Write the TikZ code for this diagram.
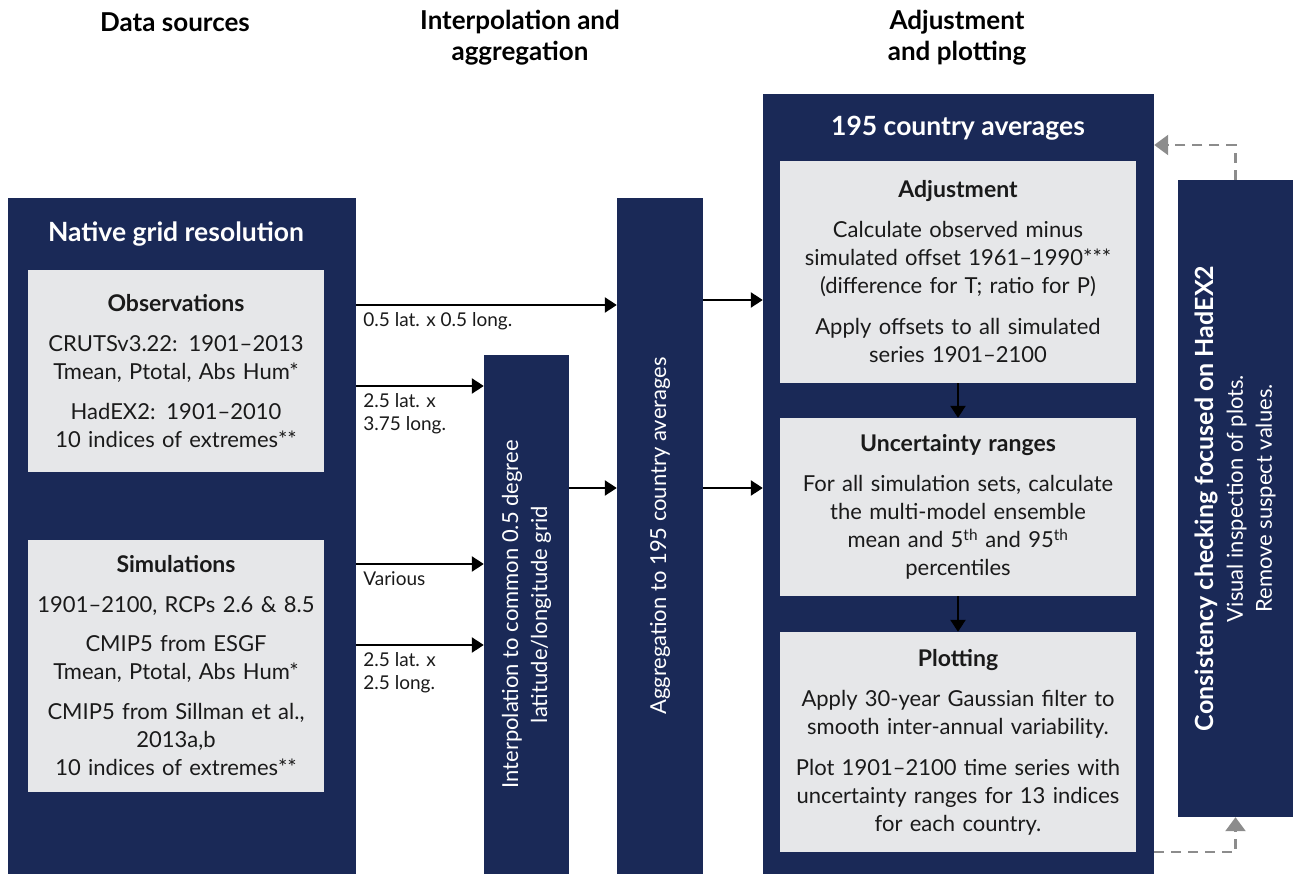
\documentclass[tikz,border=0pt]{standalone}
\usepackage{fontspec}
\setmainfont{Lato}
\usetikzlibrary{positioning}
\usetikzlibrary{calc}
\usetikzlibrary{arrows.meta}
\definecolor{navy}{HTML}{1A2957}
\definecolor{panel}{HTML}{E6E7E9}
\definecolor{dashgray}{HTML}{8C8C8C}
\definecolor{ink}{HTML}{1A1A1A}
\newcommand{\paneltitle}[1]{\textbf{\fontsize{23}{28}\selectfont #1}}

\begin{document}
\begin{tikzpicture}[x=1pt, y=-1pt,
  darkbox/.style 2 args={fill=navy, inner sep=0pt, minimum width=#1, minimum height=#2},
  panelbox/.style 2 args={fill=panel, inner sep=0pt, minimum width=#1, minimum height=#2,
    text width=#1-12, align=center, text=ink, font=\fontsize{22}{28}\selectfont},
  header/.style={align=center, font=\bfseries\fontsize{26}{31}\selectfont, text=black},
  boxtitle/.style={text=white, font=\bfseries\fontsize{26.5}{28}\selectfont},
  vtext/.style={rotate=90, text=white, align=center, font=\fontsize{22}{29}\selectfont},
  lbl/.style={anchor=north west, inner sep=6pt, align=left, text=ink,
    font=\fontsize{19}{23}\selectfont},
  arr/.style={line width=2.4pt, -{Triangle[width=15pt,length=12pt]}},
  fbarr/.style={line width=2.4pt, dashgray, dash pattern=on 10pt off 7pt,
    -{Triangle[width=20pt,length=14pt]}}]

\useasboundingbox (0,0) rectangle (1293,874);

% column headers
\node[header] (hsrc) at (175,22) {Data sources};
\node[header] (hint) at (520,38) {Interpolation and\\aggregation};
\node[header] (hadj) at (957,38) {Adjustment\\and plotting};

% data sources
\node[darkbox={348}{676}] (natgrid) at (182,536) {};
\node[boxtitle] at (176,234) {Native grid resolution};
\node[panelbox={296}{202}] (obs) at (176,371) {\paneltitle{Observations}\\[12pt]
  CRUTSv3.22: 1901–2013\\Tmean, Ptotal, Abs Hum*\\[12pt]
  HadEX2: 1901–2010\\10 indices of extremes**};
\node[panelbox={296}{252}] (sim) at (176,666) {\paneltitle{Simulations}\\[12pt]
  1901–2100, RCPs 2.6 \& 8.5\\[11pt]
  CMIP5 from ESGF\\Tmean, Ptotal, Abs Hum*\\[12pt]
  CMIP5 from Sillman et al.,\\2013a,b\\10 indices of extremes**};

% interpolation and aggregation
\node[darkbox={85}{519}] (interp) at (526.5,614.5) {};
\node[vtext] at (interp.center) {Interpolation to common 0.5 degree\\latitude/longitude grid};
\node[darkbox={86}{676}] (aggr) at (660,536) {};
\node[vtext] at (aggr.center) {Aggregation to 195 country averages};

% adjustment and plotting
\node[darkbox={391}{780}] (country) at (958.5,484) {};
\node[boxtitle] at (958,128) {195 country averages};
\node[panelbox={356}{222}] (adj) at (958,272) {\paneltitle{Adjustment}\\[12pt]
  Calculate observed minus\\simulated offset 1961–1990***\\(difference for T; ratio for P)\\[13pt]
  Apply offsets to all simulated\\series 1901–2100};
\node[panelbox={356}{178}] (unc) at (958,507) {\paneltitle{Uncertainty ranges}\\[12pt]
  For all simulation sets, calculate\\the multi-model ensemble\\
  mean and 5\textsuperscript{th} and 95\textsuperscript{th}\\percentiles};
\node[panelbox={356}{220}] (plot) at (958,742) {\paneltitle{Plotting}\\[12pt]
  Apply 30-year Gaussian filter to\\smooth inter-annual variability.\\[13pt]
  Plot 1901–2100 time series with\\uncertainty ranges for 13 indices\\for each country.};

% consistency check
\node[darkbox={115}{637}] (check) at (1235.5,498.5) {};
\node[vtext] at (check.center) {{\bfseries\fontsize{25}{28}\selectfont Consistency checking focused on HadEX2}\\
  Visual inspection of plots.\\Remove suspect values.};

% grid flows
\draw[arr] (natgrid.east |- 0,305) -- (aggr.west |- 0,305)
  node[lbl, pos=0] {0.5 lat. x 0.5 long.};
\draw[arr] (natgrid.east |- 0,386) -- (interp.west |- 0,386)
  node[lbl, pos=0] {2.5 lat. x\\3.75 long.};
\draw[arr] (natgrid.east |- 0,564) -- (interp.west |- 0,564)
  node[lbl, pos=0] {Various};
\draw[arr] (natgrid.east |- 0,645) -- (interp.west |- 0,645)
  node[lbl, pos=0] {2.5 lat. x\\2.5 long.};
\draw[arr] (interp.east |- 0,488) -- (aggr.west |- 0,488);
\foreach \yy in {300, 488}
  \draw[arr] (aggr.east |- 0,\yy) -- (country.west |- 0,\yy);

% steps
\draw[arr] (adj.south) -- (unc.north);
\draw[arr] (unc.south) -- (plot.north);

% feedback loop
\draw[fbarr] (country.east |- plot.south) -| (check.south);
\draw[fbarr] (check.north) |- (country.east |- 0,145);
\end{tikzpicture}
\end{document}
